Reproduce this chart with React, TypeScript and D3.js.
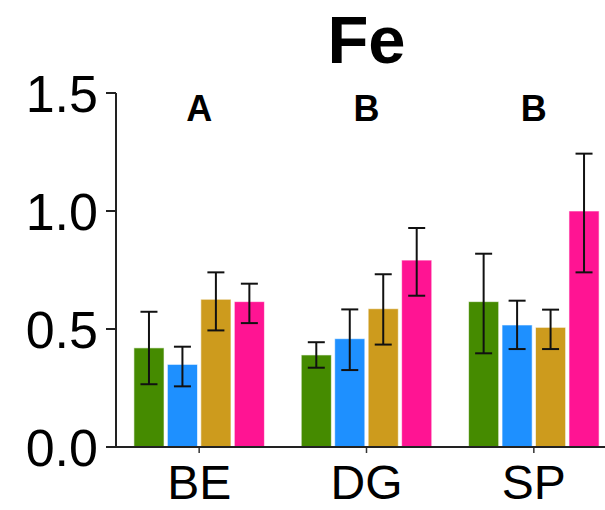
import React from "react";
import * as d3 from "d3";

const categories = ["BE", "DG", "SP"];
const seriesNames = ["s1", "s2", "s3", "s4"];
const colors = ["#458B00", "#1E90FF", "#CD9B1D", "#FF1493"];
// mean values per category (rows) per series (cols)
const means = [
  [0.42, 0.35, 0.626, 0.616],
  [0.39, 0.459, 0.586, 0.792],
  [0.616, 0.517, 0.507, 1.0],
];
const errLow = [
  [0.266, 0.257, 0.494, 0.525],
  [0.336, 0.326, 0.434, 0.641],
  [0.397, 0.415, 0.415, 0.74],
];
const errHigh = [
  [0.573, 0.425, 0.74, 0.692],
  [0.444, 0.583, 0.732, 0.928],
  [0.819, 0.62, 0.582, 1.243],
];
const letters = ["A", "B", "B"];
const yTicks = [0, 0.5, 1.0, 1.5];
const title = "Fe";

const W = 605;
const H = 510;
const FONT = "'Liberation Sans', Arial, Helvetica, sans-serif";

export default function App() {
  const y = d3.scaleLinear().domain([0, 1.5]).range([447, 93]);
  const x = d3.scaleBand<string>().domain(categories).range([115.5, 617.5]).padding(0);
  const groupW = x.step() * 0.8;
  const xi = d3
    .scaleBand<string>()
    .domain(seriesNames)
    .range([-groupW / 2, groupW / 2])
    .paddingInner(0.1)
    .paddingOuter(0.05);
  const cap = 8.5;
  const axisX = 116;

  return (
    <svg
      width={W}
      height={H}
      style={{ position: "absolute", left: 0, top: 0, background: "#fff" }}
      fontFamily={FONT}
    >
      <rect x={0} y={0} width={W} height={H} fill="#fff" />
      <text x={366.5} y={63} textAnchor="middle" fontSize={67} fontWeight="bold" fill="#000">
        {title}
      </text>
      {categories.map((c, ci) => {
        const cx = (x(c) as number) + x.bandwidth() / 2;
        return (
          <g key={c}>
            {seriesNames.map((s, si) => {
              const bx = cx + (xi(s) as number);
              const bw = xi.bandwidth();
              const v = means[ci][si];
              return (
                <rect
                  key={s}
                  x={bx}
                  y={y(v)}
                  width={bw}
                  height={y(0) - y(v)}
                  fill={colors[si]}
                  stroke="#fff"
                  strokeOpacity={0.6}
                  strokeWidth={1}
                />
              );
            })}
            {seriesNames.map((s, si) => {
              const mx = cx + (xi(s) as number) + xi.bandwidth() / 2;
              const lo = y(errLow[ci][si]);
              const hi = y(errHigh[ci][si]);
              return (
                <g key={s} stroke="#111" strokeWidth={2}>
                  <line x1={mx} x2={mx} y1={lo} y2={hi} />
                  <line x1={mx - cap} x2={mx + cap} y1={lo} y2={lo} />
                  <line x1={mx - cap} x2={mx + cap} y1={hi} y2={hi} />
                </g>
              );
            })}
            <text x={cx} y={121} textAnchor="middle" fontSize={36} fontWeight="bold" fill="#000">
              {letters[ci]}
            </text>
            <line x1={cx} x2={cx} y1={447} y2={453} stroke="#333" strokeWidth={1.5} />
            <text x={cx} y={499} textAnchor="middle" fontSize={48} fill="#000">
              {c}
            </text>
          </g>
        );
      })}
      {/* axes */}
      <line x1={axisX} x2={W} y1={y(0)} y2={y(0)} stroke="#222" strokeWidth={2} />
      <line x1={axisX} x2={axisX} y1={y(1.5)} y2={y(0)} stroke="#222" strokeWidth={2} />
      {yTicks.map((t) => (
        <g key={t}>
          <line x1={axisX - 10} x2={axisX} y1={y(t)} y2={y(t)} stroke="#222" strokeWidth={2} />
          <text x={98} y={y(t) + 18.5} textAnchor="end" fontSize={52} fill="#000">
            {t.toFixed(1)}
          </text>
        </g>
      ))}
    </svg>
  );
}
